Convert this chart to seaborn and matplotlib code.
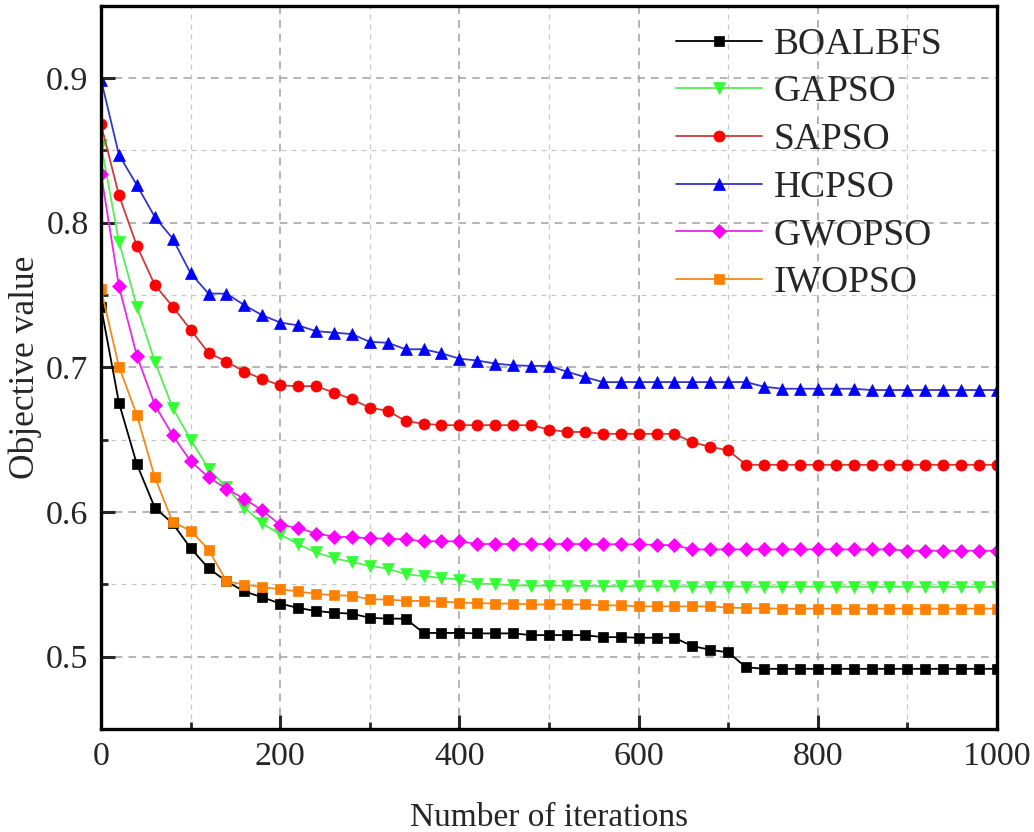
import numpy as np
import pandas as pd
import seaborn as sns
import matplotlib.pyplot as plt
from matplotlib.ticker import MultipleLocator

# iterations sampled every 20 steps
iterations = list(range(0, 1001, 20))

boalbfs = [0.742, 0.6755, 0.633, 0.603, 0.592, 0.575, 0.561, 0.552, 0.545, 0.541,
           0.5366, 0.5336, 0.5315, 0.5303, 0.5296, 0.5268, 0.5262, 0.5262, 0.5163, 0.5163,
           0.5163, 0.516, 0.516, 0.516, 0.5148, 0.5148, 0.5148, 0.5148, 0.5134, 0.5134,
           0.513, 0.513, 0.513, 0.5072, 0.5047, 0.5028, 0.4926, 0.4915, 0.4915, 0.4915,
           0.4915, 0.4915, 0.4915, 0.4915, 0.4915, 0.4915, 0.4915, 0.4915, 0.4915, 0.4915,
           0.4915]
gapso = [0.854, 0.787, 0.742, 0.704, 0.672, 0.650, 0.630, 0.617, 0.603, 0.592,
         0.5845, 0.5776, 0.572, 0.568, 0.5653, 0.5627, 0.5608, 0.5569, 0.5556, 0.5544,
         0.5532, 0.5505, 0.550, 0.5493, 0.549, 0.549, 0.549, 0.5488, 0.5487, 0.5486,
         0.5486, 0.5485, 0.5485, 0.5484, 0.5484, 0.5484, 0.5484, 0.5483, 0.5483, 0.5483,
         0.5483, 0.5483, 0.5482, 0.5482, 0.5482, 0.5482, 0.5482, 0.5481, 0.5481, 0.5481,
         0.5481]
sapso = [0.868, 0.819, 0.784, 0.757, 0.742, 0.726, 0.710, 0.704, 0.697, 0.692,
         0.6875, 0.687, 0.687, 0.6825, 0.678, 0.672, 0.670, 0.6628, 0.661, 0.660,
         0.660, 0.660, 0.660, 0.660, 0.660, 0.657, 0.6553, 0.6553, 0.654, 0.654,
         0.654, 0.654, 0.654, 0.6482, 0.645, 0.6426, 0.6326, 0.6326, 0.6326, 0.6326,
         0.6326, 0.6326, 0.6326, 0.6326, 0.6326, 0.6326, 0.6326, 0.6326, 0.6326, 0.6326,
         0.6326]
hcpso = [0.899, 0.847, 0.826, 0.804, 0.789, 0.765, 0.751, 0.751, 0.743, 0.736,
         0.731, 0.729, 0.725, 0.724, 0.723, 0.7176, 0.717, 0.7125, 0.7125, 0.7097,
         0.706, 0.7047, 0.7026, 0.7014, 0.701, 0.701, 0.697, 0.6933, 0.6898, 0.6898,
         0.6898, 0.6898, 0.6898, 0.6898, 0.6898, 0.6898, 0.6898, 0.6866, 0.6852, 0.6852,
         0.6852, 0.6852, 0.6852, 0.6843, 0.6843, 0.6843, 0.6843, 0.6843, 0.6843, 0.6843,
         0.6843]
gwopso = [0.834, 0.756, 0.708, 0.674, 0.653, 0.635, 0.624, 0.616, 0.609, 0.601,
          0.591, 0.589, 0.585, 0.583, 0.5825, 0.5818, 0.5815, 0.581, 0.5797, 0.5797,
          0.5797, 0.5778, 0.5778, 0.5778, 0.5778, 0.5778, 0.5778, 0.5778, 0.5777, 0.5776,
          0.5775, 0.5772, 0.577, 0.5741, 0.5741, 0.5741, 0.5741, 0.5741, 0.5741, 0.5741,
          0.5741, 0.5741, 0.5741, 0.5741, 0.5741, 0.5732, 0.5732, 0.5732, 0.5732, 0.5732,
          0.5732]
iwopso = [0.754, 0.7005, 0.667, 0.624, 0.593, 0.587, 0.574, 0.552, 0.5498, 0.548,
          0.5465, 0.545, 0.5433, 0.5424, 0.542, 0.5396, 0.5394, 0.5385, 0.5384, 0.538,
          0.5373, 0.537, 0.5366, 0.5366, 0.536, 0.536, 0.536, 0.536, 0.5354, 0.5354,
          0.5347, 0.5347, 0.5347, 0.5347, 0.5347, 0.5338, 0.5335, 0.5333, 0.5331, 0.5331,
          0.5331, 0.5331, 0.5331, 0.5331, 0.5331, 0.5331, 0.5331, 0.5331, 0.5331, 0.5331,
          0.5331]

# name, values, marker, marker colour, line colour
series = [
    ('BOALBFS', boalbfs, 's', '#000000', '#000000'),
    ('GAPSO', gapso, 'v', '#33ff33', '#55ee55'),
    ('SAPSO', sapso, 'o', '#ff0000', '#d03a3a'),
    ('HCPSO', hcpso, '^', '#0000ff', '#3535c8'),
    ('GWOPSO', gwopso, 'D', '#ff00ff', '#e828e8'),
    ('IWOPSO', iwopso, 's', '#ff8000', '#f08a20'),
]
marker_sizes = {'s': 7, 'v': 8, 'o': 8, '^': 8, 'D': 7}

sns.set_style('ticks')
plt.rcParams['font.family'] = ['Liberation Serif', 'DejaVu Serif']

fig = plt.figure(figsize=(10.34, 8.32), dpi=100)
ax = fig.add_axes([0.0977, 0.124, 0.8665, 0.869])

for name, vals, mk, mcol, lcol in series:
    sns.lineplot(x=iterations, y=vals, ax=ax, label=name, color=lcol,
                 linewidth=1.3, marker=mk, markersize=marker_sizes[mk],
                 markerfacecolor=mcol, markeredgecolor=mcol, markeredgewidth=0.5)

ax.set_xlim(0, 1000)
ax.set_ylim(0.45, 0.95)
ax.xaxis.set_major_locator(MultipleLocator(200))
ax.xaxis.set_minor_locator(MultipleLocator(100))
ax.yaxis.set_minor_locator(MultipleLocator(0.05))
ax.set_yticks([0.5, 0.6, 0.7, 0.8, 0.9])
ax.set_yticklabels(['0.5', '0.6', '0.7', '0.8', '0.9'])

ax.grid(which='major', linestyle=(0, (5, 4)), color='#a0a0a0', linewidth=1.1)
ax.grid(which='minor', linestyle=(0, (4, 4)), color='#c8c8c8', linewidth=0.9)
ax.set_axisbelow(True)

for sp in ax.spines.values():
    sp.set_linewidth(2.4)
    sp.set_color('black')
    sp.set_visible(True)

ax.tick_params(which='major', direction='in', length=10, width=2.2, labelsize=24.5,
               pad=9, top=False, right=False)
ax.tick_params(which='minor', direction='in', length=5, width=2.0, top=False, right=False)

ax.set_xlabel('Number of iterations', fontsize=24, labelpad=22)
ax.set_ylabel('Objective value', fontsize=25.5, labelpad=3)

leg = ax.legend(loc='upper left', frameon=False, fontsize=27, handlelength=2.3,
                labelspacing=0.35, handletextpad=0.3, borderpad=0.4, borderaxespad=0,
                bbox_to_anchor=(0.625, 0.991))

fig.savefig('out.png', dpi=100)
